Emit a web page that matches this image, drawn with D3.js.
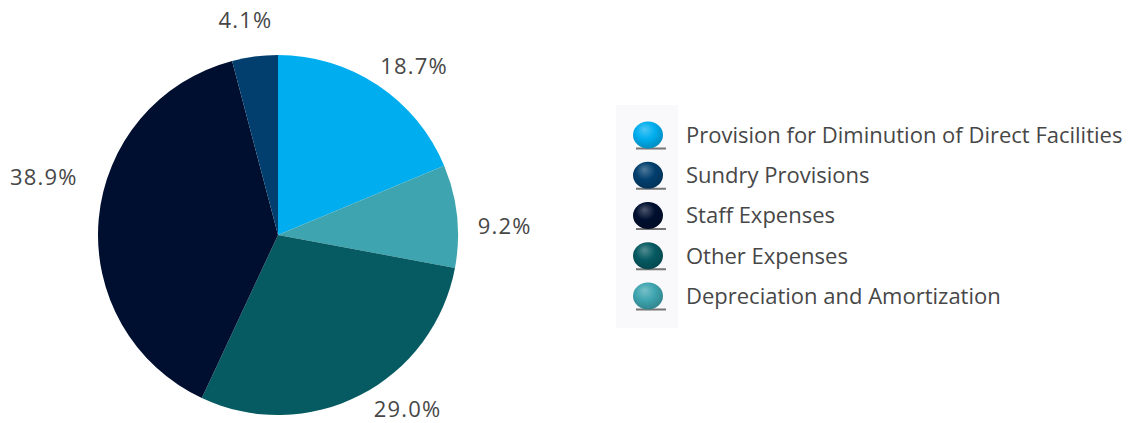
<!DOCTYPE html>
<html><head><meta charset="utf-8">
<script src="https://cdn.jsdelivr.net/npm/d3@7"></script>
<style>html,body{margin:0;padding:0;background:#fff;}svg{display:block;}</style>
</head><body>
<svg id="chart" width="1132" height="423"></svg>
<script>
// Data
const categories = ["Provision for Diminution of Direct Facilities","Depreciation and Amortization","Other Expenses","Staff Expenses","Sundry Provisions"];
const values = [18.7, 9.2, 29.0, 38.9, 4.1];
const valueLabels = ["18.7%","9.2%","29.0%","38.9%","4.1%"];
const colors = ["#00aeef","#3ea5b0","#065a62","#000f2f","#023f6e"];
const legendOrder = ["Provision for Diminution of Direct Facilities","Sundry Provisions","Staff Expenses","Other Expenses","Depreciation and Amortization"];

// Layout
const W = 1132, H = 423;
const cx = 278, cy = 235, R = 180, labelR = 222;
const labelNudge = [[13,16],[6,14],[28,-23],[-13,-38],[-4,5]];
const FONT = "'Open Sans', 'DejaVu Sans', sans-serif";

const svg = d3.select("#chart");
const color = d3.scaleOrdinal().domain(categories).range(colors);

const pie = d3.pie().sort(null).value(d => d.v);
const data = categories.map((c,i)=>({c, v:values[i], label:valueLabels[i], i}));
const arcs = pie(data);
const arc = d3.arc().innerRadius(0).outerRadius(R);
const labelArc = d3.arc().innerRadius(labelR).outerRadius(labelR);

const g = svg.append("g").attr("transform",`translate(${cx},${cy})`);
g.selectAll("path").data(arcs).join("path")
  .attr("d", arc).attr("fill", d=>color(d.data.c));

g.selectAll("text").data(arcs).join("text")
  .attr("x", d=>labelArc.centroid(d)[0] + labelNudge[d.data.i][0])
  .attr("y", d=>labelArc.centroid(d)[1] + labelNudge[d.data.i][1])
  .attr("dy","0.36em")
  .attr("text-anchor","middle")
  .attr("font-family", FONT).attr("font-size", 22)
  .attr("letter-spacing", 1.2)
  .attr("fill","#474747")
  .text(d=>d.data.label);

// Legend
const defs = svg.append("defs");
legendOrder.forEach((c,i)=>{
  const base = d3.color(color(c));
  const gr = defs.append("radialGradient").attr("id","sph"+i)
    .attr("cx","45%").attr("cy","40%").attr("r","65%").attr("fx","38%").attr("fy","28%");
  gr.append("stop").attr("offset","0%").attr("stop-color", d3.interpolateRgb(base,"#ffffff")(0.3));
  gr.append("stop").attr("offset","50%").attr("stop-color", base.formatHex());
  gr.append("stop").attr("offset","100%").attr("stop-color", base.darker(0.7).formatHex());
});
svg.append("rect").attr("x",616).attr("y",105).attr("width",62).attr("height",223).attr("fill","#f9f9fb");

const ly = d3.scalePoint().domain(legendOrder).range([135, 296]);
const lg = svg.append("g");
legendOrder.forEach((c,i)=>{
  const y = ly(c);
  lg.append("rect").attr("x",636).attr("y",y+12.5).attr("width",30).attr("height",2).attr("fill","#4a4a4a").attr("opacity",0.75);
  lg.append("ellipse").attr("cx",648).attr("cy",y).attr("rx",15).attr("ry",13.5).attr("fill",`url(#sph${i})`);
  lg.append("text").attr("x",686).attr("y",y).attr("dy","0.36em")
    .attr("font-family",FONT).attr("font-size",22).attr("fill","#474747").text(c);
});
</script>
</body></html>
